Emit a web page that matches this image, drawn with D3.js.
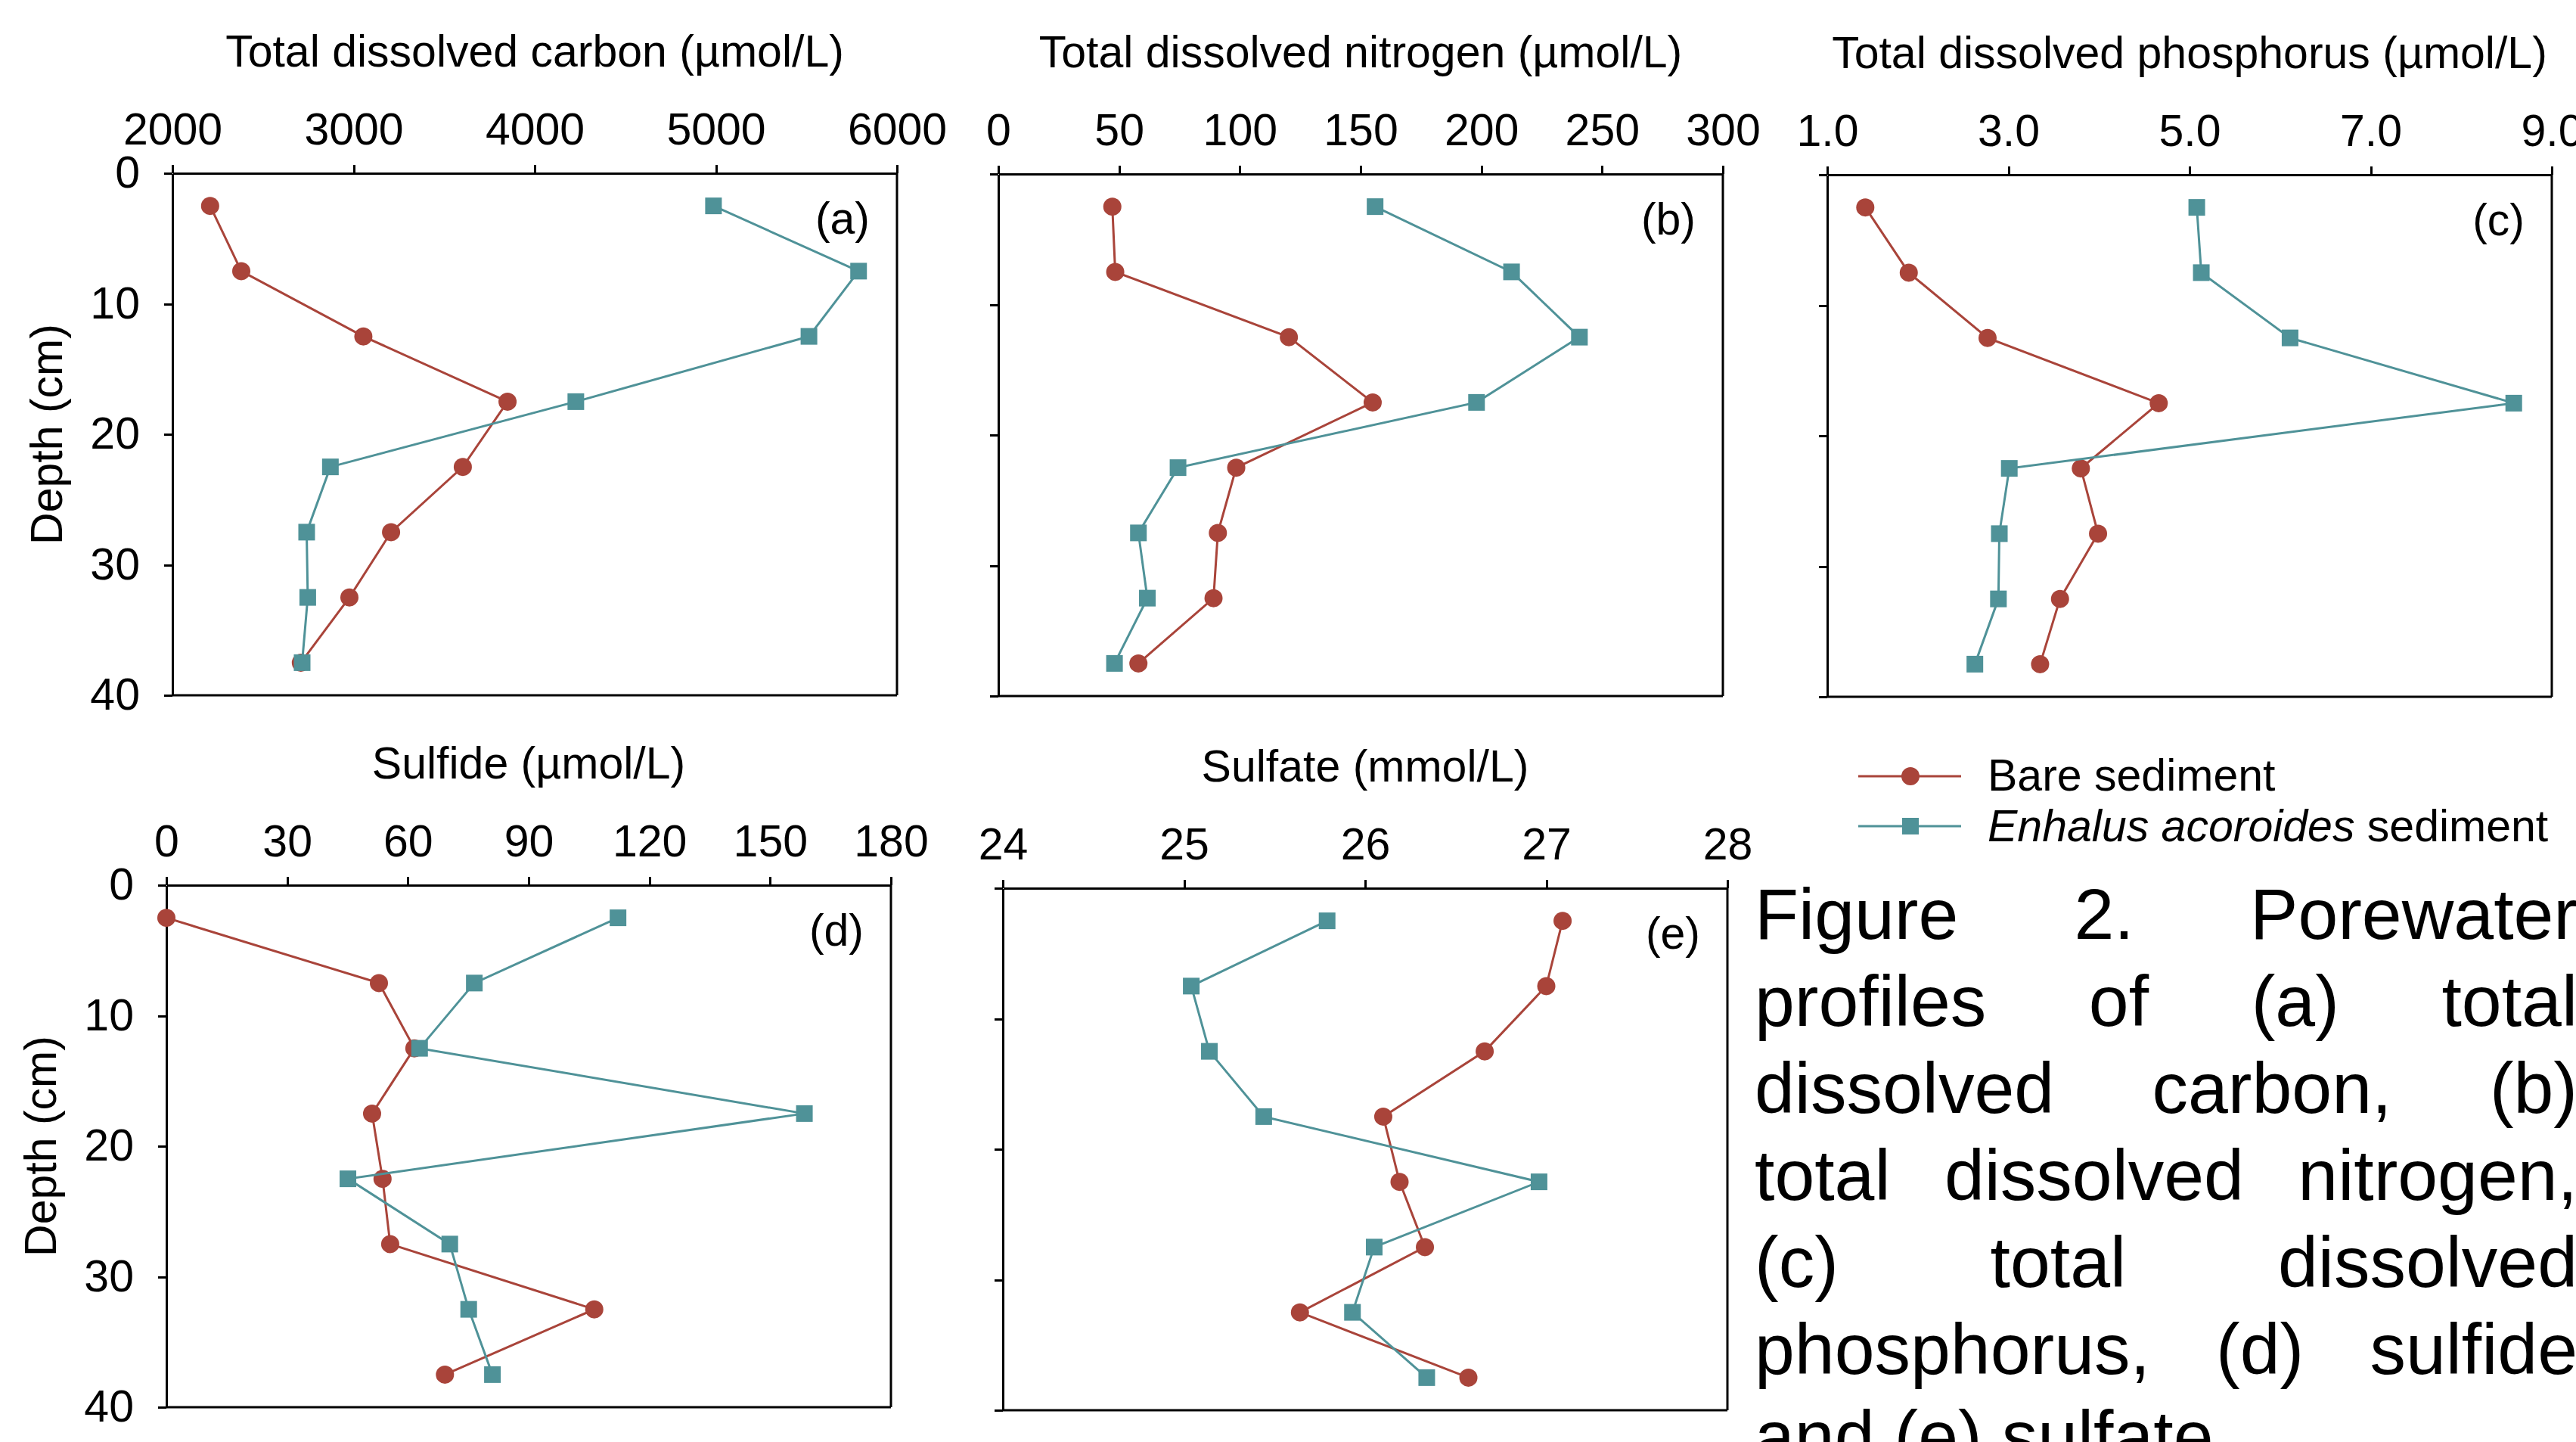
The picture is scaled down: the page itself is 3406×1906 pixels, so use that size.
<!DOCTYPE html>
<html lang="en">
<head>
<meta charset="UTF-8">
<title>Porewater profiles</title>
<style>
body { margin: 0; background: #fff; }
svg { display: block; font-family: "Liberation Sans", Arial, sans-serif; }
.axis path, .axis line { stroke: #000; stroke-width: 3; shape-rendering: crispEdges; }
.axis text { font-size: 59px; fill: #000; font-family: "Liberation Sans", Arial, sans-serif; }
.ttl { font-size: 59px; }
.caption { font-size: 95px; }
</style>
</head>
<body>
<svg id="fig" width="3406" height="1906"></svg>
<script src="https://cdn.jsdelivr.net/npm/d3@7"></script>
<script>
// depth of each sample (cm)
var depths = [2.5, 7.5, 12.5, 17.5, 22.5, 27.5, 32.5, 37.5];
var depthTicks = [0, 10, 20, 30, 40];

var carbonBare = [2208, 2380, 3054, 3850, 3603, 3207, 2977, 2709];
var carbonEnhalus = [4987, 5788, 5514, 4227, 2872, 2741, 2747, 2716];
var carbonTicks = [2000, 3000, 4000, 5000, 6000];

var nitrogenBare = [47.2, 48.4, 120.3, 155.0, 98.5, 90.9, 89.1, 58.0];
var nitrogenEnhalus = [156.0, 212.5, 240.6, 198.0, 74.4, 58.0, 61.7, 48.1];
var nitrogenTicks = [0, 50, 100, 150, 200, 250, 300];

var phosphorusBare = [1.42, 1.90, 2.77, 4.66, 3.80, 3.99, 3.57, 3.35];
var phosphorusEnhalus = [5.08, 5.13, 6.11, 8.58, 3.01, 2.90, 2.89, 2.63];
var phosphorusTicks = [1, 3, 5, 7, 9];

var sulfideBare = [0, 52.8, 61.6, 51.1, 53.7, 55.6, 106.3, 69.2];
var sulfideEnhalus = [112.2, 76.5, 62.9, 158.5, 45.1, 70.4, 75.1, 81.0];
var sulfideTicks = [0, 30, 60, 90, 120, 150, 180];

var sulfateBare = [27.09, 27.00, 26.66, 26.10, 26.19, 26.33, 25.64, 26.57];
var sulfateEnhalus = [25.79, 25.04, 25.14, 25.44, 26.96, 26.05, 25.93, 26.34];
var sulfateTicks = [24, 25, 26, 27, 28];

var seriesNames = ["Bare sediment", "Enhalus acoroides sediment"];
var bareColor = "#a9443a";
var enhalusColor = "#4f9298";

var captionLines = [
  ["Figure", "2.", "Porewater"],
  ["profiles", "of", "(a)", "total"],
  ["dissolved", "carbon,", "(b)"],
  ["total", "dissolved", "nitrogen,"],
  ["(c)", "total", "dissolved"],
  ["phosphorus,", "(d)", "sulfide"],
  ["and", "(e)", "sulfate."]
];

var panels = [
  { tag: "(a)", title: "Total dissolved carbon (\u00b5mol/L)", ticks: carbonTicks, fmt: d3.format("d"),
    bare: carbonBare, enh: carbonEnhalus, left: 228, top: 229, depthLabels: true },
  { tag: "(b)", title: "Total dissolved nitrogen (\u00b5mol/L)", ticks: nitrogenTicks, fmt: d3.format("d"),
    bare: nitrogenBare, enh: nitrogenEnhalus, left: 1320, top: 230, depthLabels: false },
  { tag: "(c)", title: "Total dissolved phosphorus (\u00b5mol/L)", ticks: phosphorusTicks, fmt: d3.format(".1f"),
    bare: phosphorusBare, enh: phosphorusEnhalus, left: 2416, top: 231, depthLabels: false },
  { tag: "(d)", title: "Sulfide (\u00b5mol/L)", ticks: sulfideTicks, fmt: d3.format("d"),
    bare: sulfideBare, enh: sulfideEnhalus, left: 220, top: 1170, depthLabels: true },
  { tag: "(e)", title: "Sulfate (mmol/L)", ticks: sulfateTicks, fmt: d3.format("d"),
    bare: sulfateBare, enh: sulfateEnhalus, left: 1326, top: 1174, depthLabels: false }
];

var plotW = 958, plotH = 690;
var svg = d3.select("#fig");
svg.append("rect").attr("width", 3406).attr("height", 1906).attr("fill", "#fff");

panels.forEach(function(p) {
  var g = svg.append("g").attr("transform", "translate(" + p.left + "," + p.top + ")");

  var x = d3.scaleLinear()
    .domain([p.ticks[0], p.ticks[p.ticks.length - 1]])
    .range([0, plotW]);
  var y = d3.scaleLinear().domain([0, 40]).range([0, plotH]);

  // frame: right and bottom edges
  g.append("line").attr("x1", plotW).attr("x2", plotW).attr("y1", 0).attr("y2", plotH)
    .attr("stroke", "#000").attr("stroke-width", 3);
  g.append("line").attr("x1", 0).attr("x2", plotW).attr("y1", plotH).attr("y2", plotH)
    .attr("stroke", "#000").attr("stroke-width", 3);

  g.append("g").attr("class", "axis")
    .call(d3.axisTop(x).tickValues(p.ticks).tickFormat(p.fmt)
      .tickSizeInner(11).tickSizeOuter(0).tickPadding(27));

  var yAxis = d3.axisLeft(y).tickValues(depthTicks)
    .tickSizeInner(11).tickSizeOuter(0).tickPadding(32);
  if (!p.depthLabels) yAxis.tickFormat("");
  g.append("g").attr("class", "axis").call(yAxis);

  g.append("text").attr("class", "ttl")
    .attr("x", plotW / 2).attr("y", -141)
    .attr("text-anchor", "middle")
    .text(p.title);

  g.append("text").attr("class", "ttl")
    .attr("x", plotW - 36).attr("y", 80)
    .attr("text-anchor", "end")
    .text(p.tag);

  if (p.depthLabels) {
    g.append("text").attr("class", "ttl")
      .attr("transform", "translate(-146," + plotH / 2 + ") rotate(-90)")
      .attr("text-anchor", "middle")
      .text("Depth (cm)");
  }

  var line = d3.line()
    .x(function(d) { return x(d[0]); })
    .y(function(d) { return y(d[1]); });

  var bareData = p.bare.map(function(v, i) { return [v, depths[i]]; });
  var enhData = p.enh.map(function(v, i) { return [v, depths[i]]; });

  g.append("path").datum(bareData).attr("d", line)
    .attr("fill", "none").attr("stroke", bareColor).attr("stroke-width", 3);
  g.selectAll(".bare").data(bareData).enter().append("circle")
    .attr("class", "bare")
    .attr("cx", function(d) { return x(d[0]); })
    .attr("cy", function(d) { return y(d[1]); })
    .attr("r", 12)
    .attr("fill", bareColor);

  g.append("path").datum(enhData).attr("d", line)
    .attr("fill", "none").attr("stroke", enhalusColor).attr("stroke-width", 3);
  g.selectAll(".enh").data(enhData).enter().append("rect")
    .attr("class", "enh")
    .attr("x", function(d) { return x(d[0]) - 11; })
    .attr("y", function(d) { return y(d[1]) - 11; })
    .attr("width", 22).attr("height", 22)
    .attr("fill", enhalusColor);
});

// legend
var legend = svg.append("g").attr("transform", "translate(2457,1026)");
legend.append("line").attr("x1", 0).attr("x2", 136).attr("y1", 0).attr("y2", 0)
  .attr("stroke", bareColor).attr("stroke-width", 3);
legend.append("circle").attr("cx", 69).attr("cy", 0).attr("r", 12).attr("fill", bareColor);
legend.append("text").attr("class", "ttl").attr("x", 171).attr("y", 19).text(seriesNames[0]);

legend.append("line").attr("x1", 0).attr("x2", 136).attr("y1", 66).attr("y2", 66)
  .attr("stroke", enhalusColor).attr("stroke-width", 3);
legend.append("rect").attr("x", 58).attr("y", 55).attr("width", 22).attr("height", 22)
  .attr("fill", enhalusColor);
var t2 = legend.append("text").attr("class", "ttl").attr("x", 171).attr("y", 86);
t2.append("tspan").attr("font-style", "italic").text("Enhalus acoroides");
t2.append("tspan").text(" sediment");

// justified caption
var capX0 = 2320, capX1 = 3408, capY0 = 1241, capStep = 115;
captionLines.forEach(function(words, li) {
  var texts = words.map(function(w) {
    return svg.append("text").attr("class", "caption").attr("y", capY0 + li * capStep).text(w);
  });
  var widths = texts.map(function(t) { return t.node().getComputedTextLength(); });
  var total = d3.sum(widths);
  var gap = (li === captionLines.length - 1) ? 26 : (capX1 - capX0 - total) / (words.length - 1);
  var cx = capX0;
  texts.forEach(function(t, i) {
    t.attr("x", cx);
    cx += widths[i] + gap;
  });
});
</script>
</body>
</html>
